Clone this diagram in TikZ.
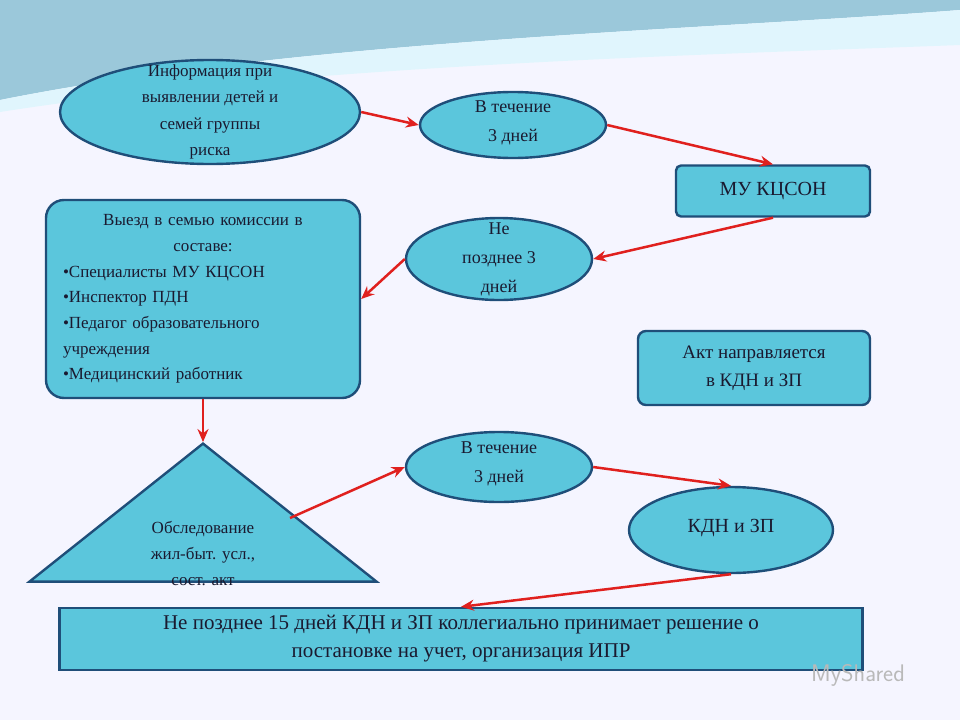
\documentclass[tikz,border=0pt]{standalone}
\usepackage{fontspec}
\setmainfont{Liberation Serif}
\usetikzlibrary{shapes.geometric,arrows.meta}
\definecolor{fillc}{HTML}{5BC6DC}
\definecolor{edgec}{HTML}{1F4E79}
\definecolor{arr}{HTML}{E0201E}
\definecolor{txt}{HTML}{1A1A30}
\tikzset{
 box/.style={draw=edgec,line width=2.4pt,fill=fillc,text=txt,font=\fontsize{17}{25}\selectfont},
 oval/.style={box,ellipse,inner sep=0pt},
 lbl/.style={text=txt,align=center,font=\fontsize{17}{26}\selectfont},
 conn/.style={draw=arr,line width=2.5pt,-{Stealth[length=13pt,width=11pt]}}
}
\begin{document}
\begin{tikzpicture}[x=1pt,y=-1pt]
\useasboundingbox (0,0) rectangle (960,720);
\fill[white!96!blue] (0,0) rectangle (960,720);
\fill[cyan!35!teal!45] (0,0) -- (960,0) -- (960,10) .. controls (700,30) and (300,40) .. (0,100) -- cycle;
\fill[cyan!12] (0,100) .. controls (300,40) and (700,30) .. (960,10) -- (960,45) .. controls (700,55) and (300,65) .. (0,112) -- cycle;
\node[oval,minimum width=300pt,minimum height=104pt] (e1) at (210,112) {};
\node[lbl,font=\fontsize{17}{26.3}\selectfont] (l1) at (e1) {Информация при\\выявлении детей и\\семей группы\\риска};
\node[oval,minimum width=186pt,minimum height=66pt] (e2) at (513,125) {};
\node[lbl,font=\fontsize{18}{29}\selectfont] (l2) at (513,123) {В течение\\3 дней};
\node[box,rounded corners=5pt,minimum width=194pt,minimum height=51pt,font=\fontsize{20}{24}\selectfont] (r1) at (773,191) {МУ КЦСОН};
\node[box,rounded corners=18pt,minimum width=314pt,minimum height=198pt,align=left,text width=280pt,font=\fontsize{17}{25.7}\selectfont] (r2) at (203,299) {\centering Выезд в семью комиссии в\\составе:\par\raggedright
•Специалисты МУ КЦСОН\\•Инспектор ПДН\\•Педагог образовательного учреждения\\•Медицинский работник};
\node[oval,minimum width=186pt,minimum height=82pt] (e3) at (499,259) {};
\node[lbl,font=\fontsize{18}{29}\selectfont] (l3) at (499,259) {Не\\позднее 3\\дней};
\node[box,rounded corners=8pt,minimum width=232pt,minimum height=74pt,align=center,font=\fontsize{19}{28}\selectfont] (r3) at (754,368) {Акт направляется\\в КДН и ЗП};
\node[oval,minimum width=186pt,minimum height=70pt] (e4) at (499,467) {};
\node[lbl,font=\fontsize{18}{29}\selectfont] (l4) at (499,464) {В течение\\3 дней};
\node[box,isosceles triangle,isosceles triangle apex angle=103,shape border rotate=90,minimum width=345pt,minimum height=138pt,inner sep=0pt] (t) at (203,521) {};
\node[lbl] (tl) at (203,554) {Обследование\\жил-быт. усл.,\\сост. акт};
\node[oval,minimum width=204pt,minimum height=86pt] (e5) at (731,530) {};
\node[lbl,font=\fontsize{20}{24}\selectfont] (l5) at (731,528) {КДН и ЗП};
\node[box,minimum width=803pt,minimum height=62pt,align=center,font=\fontsize{21}{28}\selectfont] (r4) at (461,639) {Не позднее 15 дней КДН и ЗП коллегиально принимает решение о\\постановке на учет, организация ИПР};
\node[text=gray!55,font=\fontsize{24}{26}\selectfont\sffamily] (wm) at (858,675) {MyShared};
\draw[conn] (e1.east) -- (e2.west);
\draw[conn] (e2.east) -- (r1.north);
\draw[conn] (r1.south) -- (e3.east);
\draw[conn] (e3.west) -- (r2.east);
\draw[conn] (r2.south) -- (t.apex);
\coordinate (ts) at (290,518);
\draw[conn] (ts) -- (e4.west);
\draw[conn] (e4.east) -- (e5.north);
\draw[conn] (e5.south) -- (r4.north);
\end{tikzpicture}
\end{document}
